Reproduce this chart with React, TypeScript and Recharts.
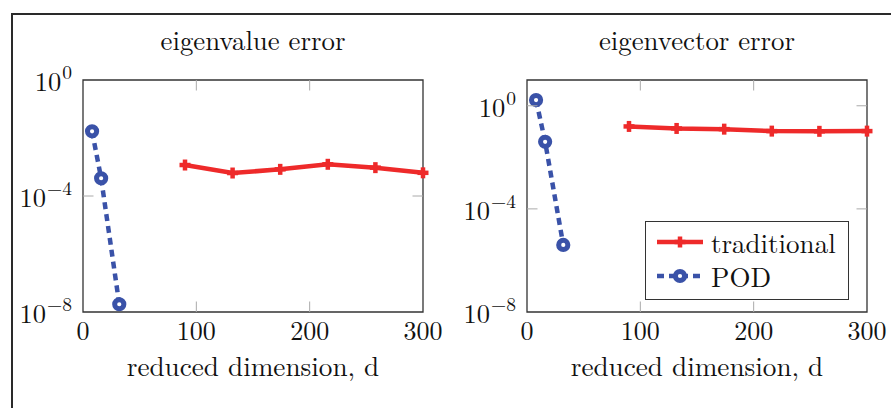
import React from 'react';
import { LineChart, Line, XAxis, YAxis, ReferenceArea, Legend } from 'recharts';

// reduced dimension d for each method
const podDims = [8, 16, 32];
const tradDims = [90, 132, 174, 216, 258, 300];

// eigenvalue error
const valuePod = [1.7e-2, 4.1e-4, 1.85e-8];
const valueTrad = [1.17e-3, 6.2e-4, 8.3e-4, 1.24e-3, 9.5e-4, 6.3e-4];

// eigenvector error
const vectorPod = [1.66, 4.0e-2, 4.0e-6];
const vectorTrad = [0.158, 0.132, 0.124, 0.104, 0.102, 0.104];

const xTicks = [0, 100, 200, 300];
const yTicks = [1e-8, 1e-4, 1];
const titles = ['eigenvalue error', 'eigenvector error'];
const seriesNames = ['traditional', 'POD'];
const xLabel = 'reduced dimension, d';

const FONT = '"Latin Modern Roman", "Liberation Serif", serif';
const RED = '#ee2a2a';
const BLUE = '#3a52a8';
const PLOT_TOP = 80;
const PLOT_H = 232;
const PLOT_W = 340;
const PLOT_BOTTOM = PLOT_TOP + PLOT_H;
const Y_W = 70;
const TICK_LEN = 10.5;

const toPoints = (dims: number[], vals: number[]) => dims.map((d, i) => ({ d, err: vals[i] }));

const PlusDot = (props: any) => {
  const { cx, cy } = props;
  if (cx == null || cy == null) return null;
  return (
    <g key={props.key ?? `p-${cx}`}>
      <line x1={cx - 5.5} y1={cy} x2={cx + 5.5} y2={cy} stroke={RED} strokeWidth={4.5} />
      <line x1={cx} y1={cy - 5.5} x2={cx} y2={cy + 5.5} stroke={RED} strokeWidth={4.5} />
    </g>
  );
};

const CircleDot = (props: any) => {
  const { cx, cy } = props;
  if (cx == null || cy == null) return null;
  return <circle key={props.key ?? `c-${cx}`} cx={cx} cy={cy} r={4.6} fill="#fff" stroke={BLUE} strokeWidth={5} />;
};

function makeXTick(plotLeft: number) {
  return (props: any) => {
    const c = props.payload.coordinate;
    const inner = Math.abs(c - plotLeft) > 1 && Math.abs(c - plotLeft - PLOT_W) > 1;
    return (
      <g>
        {inner && <line x1={c} x2={c} y1={PLOT_BOTTOM} y2={PLOT_BOTTOM - TICK_LEN} stroke="#aaa" strokeWidth={1} />}
        {inner && <line x1={c} x2={c} y1={PLOT_TOP} y2={PLOT_TOP + TICK_LEN} stroke="#aaa" strokeWidth={1} />}
        <text x={c} y={PLOT_BOTTOM + 28} textAnchor="middle" style={{ fontFamily: FONT }} fontSize={26} fill="#111">
          {props.payload.value}
        </text>
      </g>
    );
  };
}

function makeYTick(plotLeft: number) {
  return (props: any) => {
    const c = props.payload.coordinate;
    const exp = Math.round(Math.log10(props.payload.value));
    const inner = Math.abs(c - PLOT_TOP) > 1 && Math.abs(c - PLOT_BOTTOM) > 1;
    return (
      <g>
        {inner && <line x1={plotLeft} x2={plotLeft + TICK_LEN} y1={c} y2={c} stroke="#aaa" strokeWidth={1} />}
        {inner && <line x1={plotLeft + PLOT_W} x2={plotLeft + PLOT_W - TICK_LEN} y1={c} y2={c} stroke="#aaa" strokeWidth={1} />}
        <text x={plotLeft - 11} y={c + 11} textAnchor="end" style={{ fontFamily: FONT }} fontSize={26.5} fill="#111">
          <tspan>10</tspan>
          <tspan dx={1} dy={-12} fontSize={19.5}>{exp === 0 ? '0' : `\u2212${Math.abs(exp)}`}</tspan>
        </text>
      </g>
    );
  };
}

const LegendBox = (props: any) => {
  const items = [...(props.payload || [])].sort(
    (a: any, b: any) => seriesNames.indexOf(a.value) - seriesNames.indexOf(b.value)
  );
  return (
    <div style={{ width: 202, height: 77, border: '1.3px solid #333', background: '#fff', boxSizing: 'content-box' }}>
      {items.map((it: any, i: number) => {
        const dashed = it.value === seriesNames[1];
        const color = dashed ? BLUE : RED;
        return (
          <div key={it.value} style={{ display: 'flex', alignItems: 'center', height: 34, marginTop: i === 0 ? 3 : 0 }}>
            <svg width={62} height={20} style={{ marginLeft: 10 }}>
              <line x1={1} y1={10} x2={47} y2={10} stroke={color} strokeWidth={4.5} strokeDasharray={dashed ? '7 5' : undefined} />
              {dashed ? (
                <circle cx={24} cy={10} r={4.6} fill="#fff" stroke={color} strokeWidth={5} />
              ) : (
                <g>
                  <line x1={18.5} y1={10} x2={29.5} y2={10} stroke={color} strokeWidth={4.5} />
                  <line x1={24} y1={4.5} x2={24} y2={15.5} stroke={color} strokeWidth={4.5} />
                </g>
              )}
            </svg>
            <span style={{ fontFamily: FONT, fontSize: 27, lineHeight: '30px', color: '#111', marginLeft: -7 }}>{it.value}</span>
          </div>
        );
      })}
    </div>
  );
};

function Panel(props: { left: number; width: number; marginLeft: number; title: string; trad: number[]; pod: number[]; yMax: number; legend?: boolean }) {
  const { left, width, marginLeft, title, trad, pod, yMax, legend } = props;
  const plotLeft = marginLeft + Y_W;
  const trData = toPoints(tradDims, trad);
  const podData = toPoints(podDims, pod);
  return (
    <div style={{ position: 'absolute', left, top: 0, width, height: 408 }}>
      <div
        style={{
          position: 'absolute',
          left: plotLeft,
          width: PLOT_W,
          top: 24,
          textAlign: 'center',
          fontFamily: FONT,
          fontSize: 26.8,
          color: '#111',
          lineHeight: '30px',
        }}
      >
        {title}
      </div>
      <LineChart width={width} height={408} margin={{ top: PLOT_TOP, left: marginLeft, right: width - plotLeft - PLOT_W, bottom: 26 }}>
        <XAxis
          type="number"
          dataKey="d"
          domain={[0, 300]}
          ticks={xTicks}
          height={70}
          axisLine={false}
          tickLine={false}
          tick={makeXTick(plotLeft)}
          label={(lp: any) => {
            const vb = lp.viewBox || {};
            return (
              <text x={vb.x + vb.width / 2} y={PLOT_BOTTOM + 64} textAnchor="middle" style={{ fontFamily: FONT }} fontSize={27.2} fill="#111">
                {xLabel}
              </text>
            );
          }}
        />
        <YAxis
          type="number"
          scale="log"
          domain={[1e-8, yMax]}
          ticks={yTicks}
          allowDataOverflow
          width={Y_W}
          axisLine={false}
          tickLine={false}
          tick={makeYTick(plotLeft)}
        />
        <ReferenceArea x1={0} x2={300} y1={1e-8} y2={yMax} fill="none" stroke="#333" strokeWidth={1.3} ifOverflow="visible" />
        <Line
          data={trData}
          dataKey="err"
          name={seriesNames[0]}
          stroke={RED}
          strokeWidth={4.5}
          dot={PlusDot}
          activeDot={false}
          isAnimationActive={false}
        />
        <Line
          data={podData}
          dataKey="err"
          name={seriesNames[1]}
          stroke={BLUE}
          strokeWidth={4.5}
          strokeDasharray="7 5"
          dot={CircleDot}
          activeDot={false}
          isAnimationActive={false}
        />
        {legend && (
          <Legend
            layout="vertical"
            align="center"
            verticalAlign="middle"
            content={<LegendBox />}
            wrapperStyle={{ position: 'absolute', left: 205, top: 221, width: 'auto' }}
          />
        )}
      </LineChart>
    </div>
  );
}

export default function App() {
  return (
    <div style={{ position: 'absolute', left: 0, top: 0, width: 891, height: 408, background: '#fff', overflow: 'hidden' }}>
      <div style={{ position: 'absolute', left: 11, top: 12.5, width: 1000, height: 500, border: '2.5px solid #2a2a2a' }} />
      <Panel left={0} width={452} marginLeft={13} title={titles[0]} trad={valueTrad} pod={valuePod} yMax={1} />
      <Panel left={440} width={451} marginLeft={17} title={titles[1]} trad={vectorTrad} pod={vectorPod} yMax={10} legend />
    </div>
  );
}
